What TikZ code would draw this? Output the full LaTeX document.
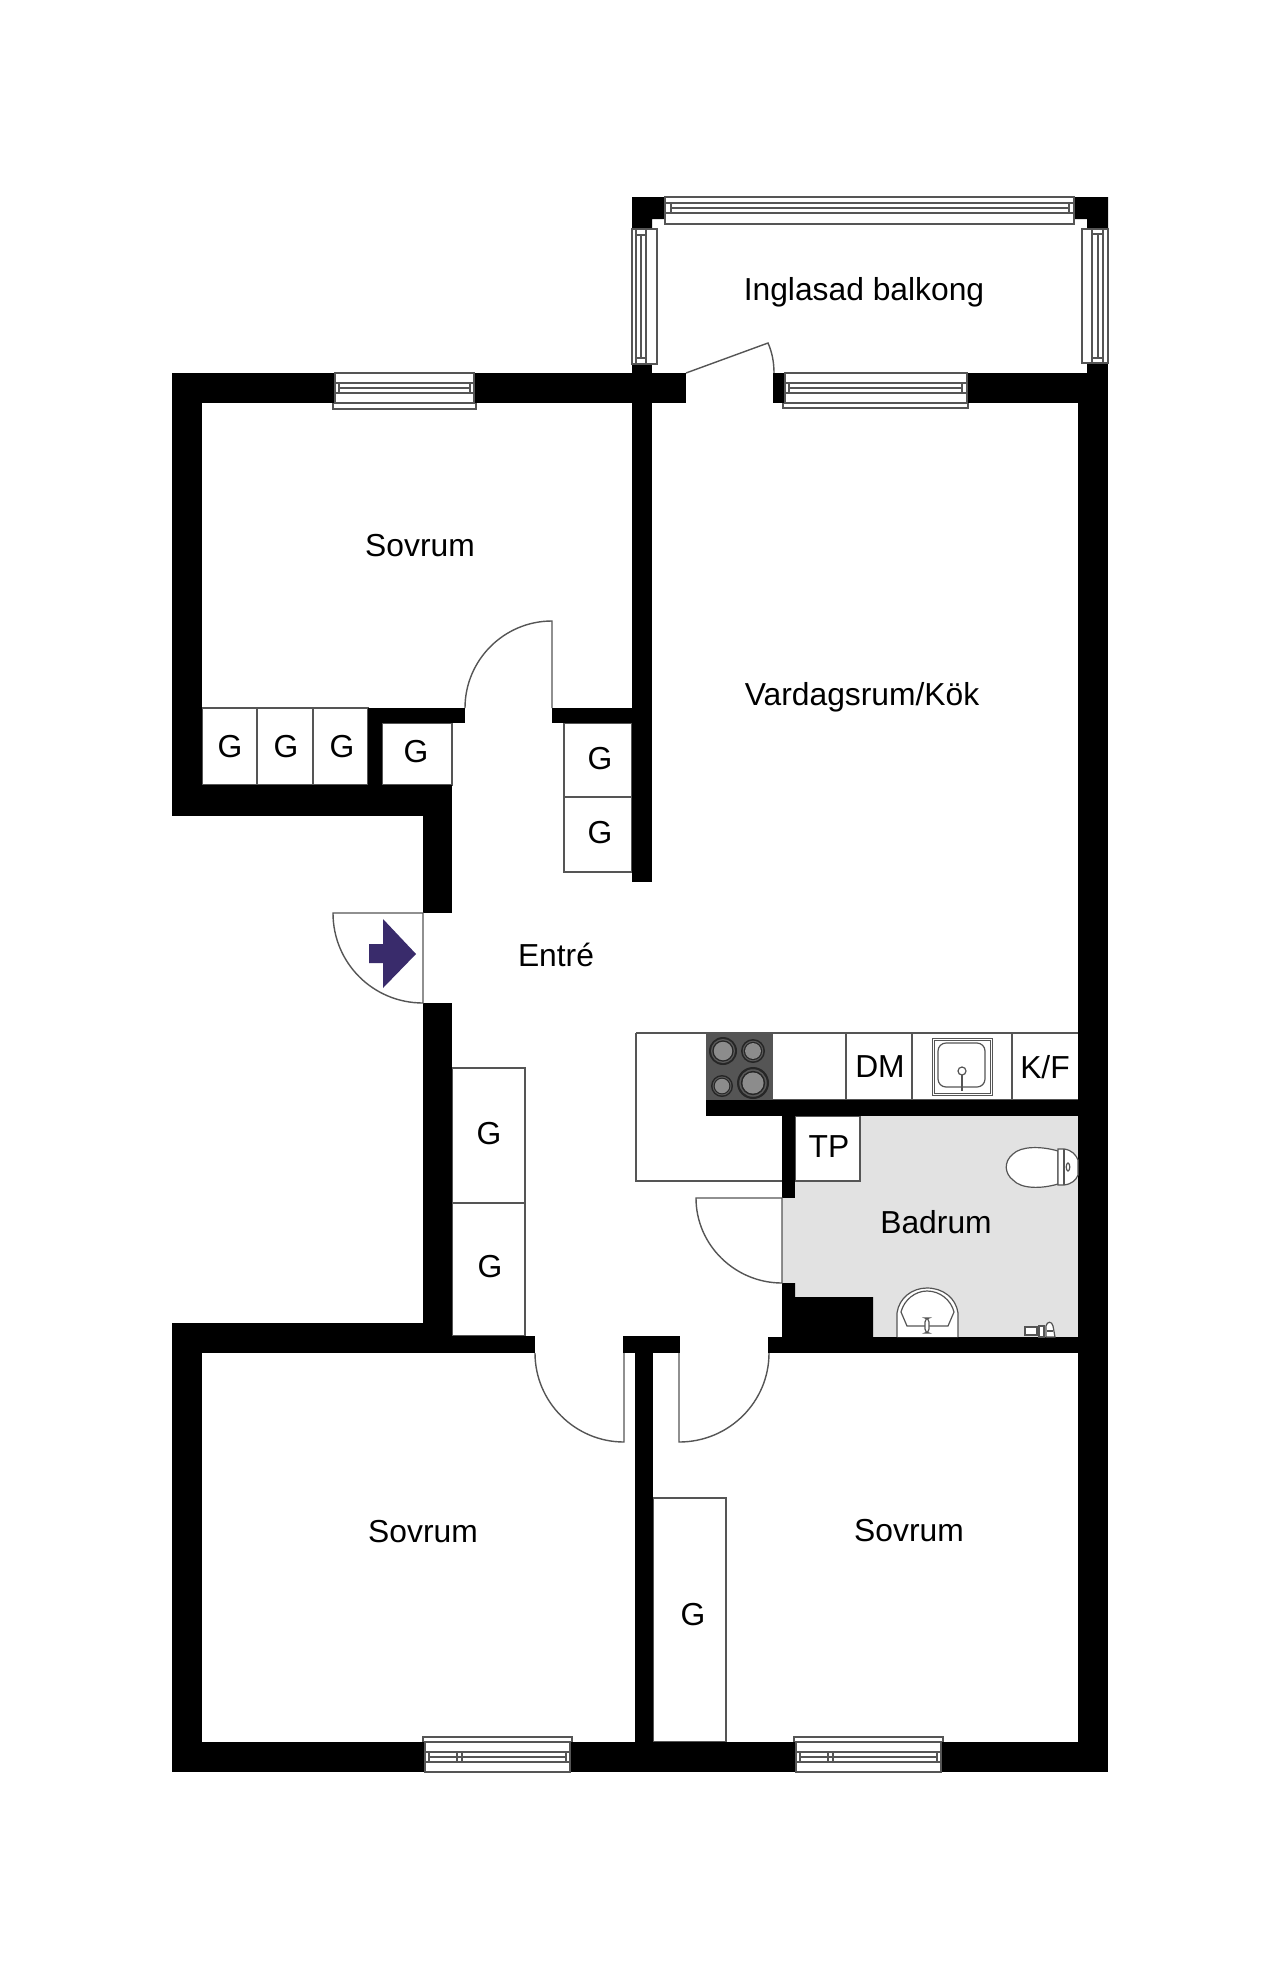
\documentclass[tikz,border=0pt]{standalone}
\usepackage{fontspec}
\setmainfont{Liberation Sans}
\definecolor{ln}{HTML}{555555}
\definecolor{bath}{HTML}{E2E2E2}
\definecolor{arrowc}{HTML}{392B6B}
\newcommand\wallr[4]{\fill[black] (#1,#2) rectangle (#3,#4);}
% horizontal window: x1 x2 ytop ybottom y1 y2 y3 barL barR
\newcommand\hwin[9]{\draw[ln,fill=white,line width=.6pt] (#1,#3) rectangle (#2,#4);
 \draw[ln,line width=.6pt] (#1,#5) -- (#2,#5) (#1,#7) -- (#2,#7);
 \draw[ln,line width=.6pt] (#8,#5) -- (#8,#7) (#9,#5) -- (#9,#7) (#8,#6) -- (#9,#6);}
\newcommand\vwin[9]{\draw[ln,fill=white,line width=.6pt] (#3,#1) rectangle (#4,#2);
 \draw[ln,line width=.6pt] (#5,#1) -- (#5,#2) (#7,#1) -- (#7,#2);
 \draw[ln,line width=.6pt] (#5,#8) -- (#7,#8) (#5,#9) -- (#7,#9) (#6,#8) -- (#6,#9);}
\tikzset{
 thin line/.style={draw=ln,line width=.7pt},
 room/.style={font=\fontsize{15.9}{18}\selectfont,inner sep=0pt,text=black},
 fixture/.style={draw=ln,line width=.6pt,fill=white}
}
\begin{document}
\begin{tikzpicture}[x=0.5pt,y=-0.5pt]
\useasboundingbox (0,0) rectangle (1280,1970);
\fill[white] (0,0) rectangle (1280,1970);
% bathroom floor
\fill[bath] (795,1116) -- (1078,1116) -- (1078,1337) -- (782,1337) -- (782,1198) -- (795,1198) -- cycle;
% cupboards
\draw[thin line] (202,708) rectangle (368,785) (257,708) -- (257,785) (313,708) -- (313,785);
\draw[thin line] (382,723) rectangle (452,785);
\draw[thin line] (564,723) rectangle (632,872) (564,797) -- (632,797);
\draw[thin line] (452,1068) rectangle (525,1336) (452,1203) -- (525,1203);
\draw[thin line] (653,1498) rectangle (726,1742);
\draw[thin line,fill=white] (795,1116) rectangle (860,1181);
% kitchen counter
\draw[thin line] (636,1033) -- (1078,1033) (636,1033) -- (636,1181) -- (782,1181) (706,1100) -- (1078,1100);
\draw[thin line] (846,1033) -- (846,1100) (912,1033) -- (912,1100) (1012,1033) -- (1012,1100);
\fill[fill=ln] (706,1033) rectangle (773,1100);
\foreach \cx/\cy/\r in {723/1051/14,753/1051/12,722/1086/11,753/1083/16}{
 \fill[black!85] (\cx,\cy) circle[radius=\r];
 \fill[black!65] (\cx,\cy) circle[radius=\r*0.86];
 \fill[black!85] (\cx,\cy) circle[radius=\r*0.76];
 \fill[black!45] (\cx,\cy) circle[radius=\r*0.66];
}
% sink
\draw[fixture,line width=.5pt] (932,1038) rectangle (992,1095);
\draw[fixture,line width=.5pt] (934,1040) rectangle (990,1093);
\draw[fixture,rounded corners=4pt] (938,1043) rectangle (985,1087);
\draw[fixture] (962,1071) circle[radius=4];
\draw[ln,line width=1pt] (962,1075) -- (962,1091);
% window extensions inside rooms
\draw[thin line] (333,403) -- (333,409) -- (476,409) -- (476,403);
\draw[thin line] (783,403) -- (783,408) -- (968,408) -- (968,403);
\draw[thin line] (423,1742) -- (423,1737) -- (572,1737) -- (572,1742);
\draw[thin line] (794,1742) -- (794,1737) -- (943,1737) -- (943,1742);
% walls
\wallr{172}{373}{335}{403}
\wallr{474}{373}{686}{403}
\wallr{172}{373}{202}{816}
\wallr{172}{785}{452}{816}
\wallr{423}{785}{452}{913}
\wallr{368}{708}{382}{785}
\wallr{368}{708}{465}{723}
\wallr{552}{708}{632}{723}
\wallr{632}{363}{652}{882}
\wallr{773}{373}{785}{403}
\wallr{967}{373}{1108}{403}
\wallr{1078}{373}{1108}{1772}
\wallr{1087}{363}{1108}{373}
\wallr{423}{1003}{452}{1353}
\wallr{172}{1323}{202}{1772}
\wallr{172}{1323}{452}{1353}
\wallr{452}{1336}{535}{1353}
\wallr{623}{1336}{680}{1353}
\wallr{635}{1353}{653}{1772}
\wallr{172}{1742}{425}{1772}
\wallr{570}{1742}{796}{1772}
\wallr{941}{1742}{1108}{1772}
\wallr{768}{1337}{1078}{1353}
\wallr{706}{1100}{1078}{1116}
\wallr{782}{1116}{795}{1198}
\fill[black] (782,1337) -- (782,1283) -- (795,1283) -- (795,1297) -- (873,1297) -- (873,1337) -- cycle;
% balcony corners
\fill[black] (632,197) -- (667,197) -- (667,219) -- (652,219) -- (652,230) -- (632,230) -- cycle;
\fill[black] (1108,197) -- (1073,197) -- (1073,219) -- (1087,219) -- (1087,230) -- (1108,230) -- cycle;
% windows
\hwin{665}{1074}{197}{224}{203}{208}{213}{671}{1069}
\vwin{229}{364}{632}{657}{636}{641}{646}{235}{358}
\vwin{229}{363}{1082}{1108}{1092}{1098}{1103}{234}{358}
\hwin{785}{967}{373}{403}{383}{388}{393}{789}{962}
\hwin{335}{474}{373}{403}{383}{388}{393}{339}{470}
\hwin{425}{570}{1742}{1772}{1752}{1757}{1762}{429}{566}
\draw[ln,line width=.6pt] (457,1752) -- (457,1762) (462,1752) -- (462,1762);
\hwin{796}{941}{1742}{1772}{1752}{1757}{1762}{800}{937}
\draw[ln,line width=.6pt] (828,1752) -- (828,1762) (833,1752) -- (833,1762);
% doors
\draw[thin line] (686,373) -- (768,343) .. controls (772,352) and (774,362) .. (774,373);
\draw[thin line] (465,708) .. controls (465,660) and (504,621) .. (552,621) -- (552,708);
\draw[thin line] (423,913) -- (333,913) .. controls (333,963) and (373,1003) .. (423,1003) -- cycle;
\draw[thin line] (782,1198) -- (696,1198) .. controls (696,1245) and (735,1283) .. (782,1283) -- cycle;
\draw[thin line] (535,1353) .. controls (535,1402) and (575,1442) .. (624,1442) -- (624,1353);
\draw[thin line] (769,1353) .. controls (769,1402) and (729,1442) .. (679,1442) -- (679,1353);
% entrance arrow
\fill[arrowc] (416,954) -- (383,919) -- (383,944) -- (369,944) -- (369,963) -- (383,963) -- (383,988) -- cycle;
% toilet
\draw[fixture] (1058,1151) .. controls (1041,1146) and (1021,1146) .. (1013,1154) .. controls (1003,1162) and (1005,1174) .. (1013,1180) .. controls (1021,1189) and (1041,1189) .. (1058,1184) -- cycle;
\draw[fixture] (1058,1149) -- (1064,1149) .. controls (1072,1150) and (1076,1155) .. (1078,1160) -- (1078,1175) .. controls (1076,1180) and (1072,1184) .. (1064,1185) -- (1058,1185) -- cycle;
\draw[ln,line width=.6pt] (1064,1149) -- (1064,1185);
\draw[ln,line width=.6pt] (1068,1167) ellipse[x radius=1.8,y radius=4];
% basin
\draw[fixture] (897,1337) -- (897,1313) .. controls (899,1298) and (912,1288) .. (927,1288) .. controls (943,1288) and (956,1298) .. (958,1313) -- (958,1337);
\draw[fixture] (907,1326) -- (901,1312) .. controls (904,1300) and (915,1291) .. (927,1291) .. controls (940,1291) and (951,1300) .. (954,1312) -- (948,1326) -- cycle;
\draw[fixture,rounded corners=2pt] (925,1318) rectangle (929,1333);
% small bath fitting
\draw[fixture] (1025,1327) rectangle (1037,1335);
\draw[fixture] (1039,1326) rectangle (1044,1337);
\draw[fixture] (1046,1337) -- (1046,1326) .. controls (1047,1321) and (1052,1321) .. (1053,1326) -- (1055,1337) -- cycle;
\draw[ln,line width=.8pt] (1047,1331) -- (1053,1331);
% labels
\node[room] (balkong) at (864,292) {Inglasad balkong};
\node[room] (sovrum1) at (420,546) {Sovrum};
\node[room] (vardag) at (862,697) {Vardagsrum/Kök};
\node[room] (entre) at (556,955) {Entré};
\node[room] (badrum) at (936,1222) {Badrum};
\node[room] (sovrum2) at (423,1532) {Sovrum};
\node[room] (sovrum3) at (909,1531) {Sovrum};
\node[room] (g1) at (230,747) {G};
\node[room] (g2) at (286,747) {G};
\node[room] (g3) at (342,747) {G};
\node[room] (g4) at (416,752) {G};
\node[room] (g5) at (600,759) {G};
\node[room] (g6) at (600,833) {G};
\node[room] (g7) at (489,1134) {G};
\node[room] (g8) at (490,1267) {G};
\node[room] (g9) at (693,1615) {G};
\node[room] (dm) at (880,1067) {DM};
\node[room] (kf) at (1045,1067) {K/F};
\node[room] (tp) at (829,1147) {TP};
\end{tikzpicture}
\end{document}
